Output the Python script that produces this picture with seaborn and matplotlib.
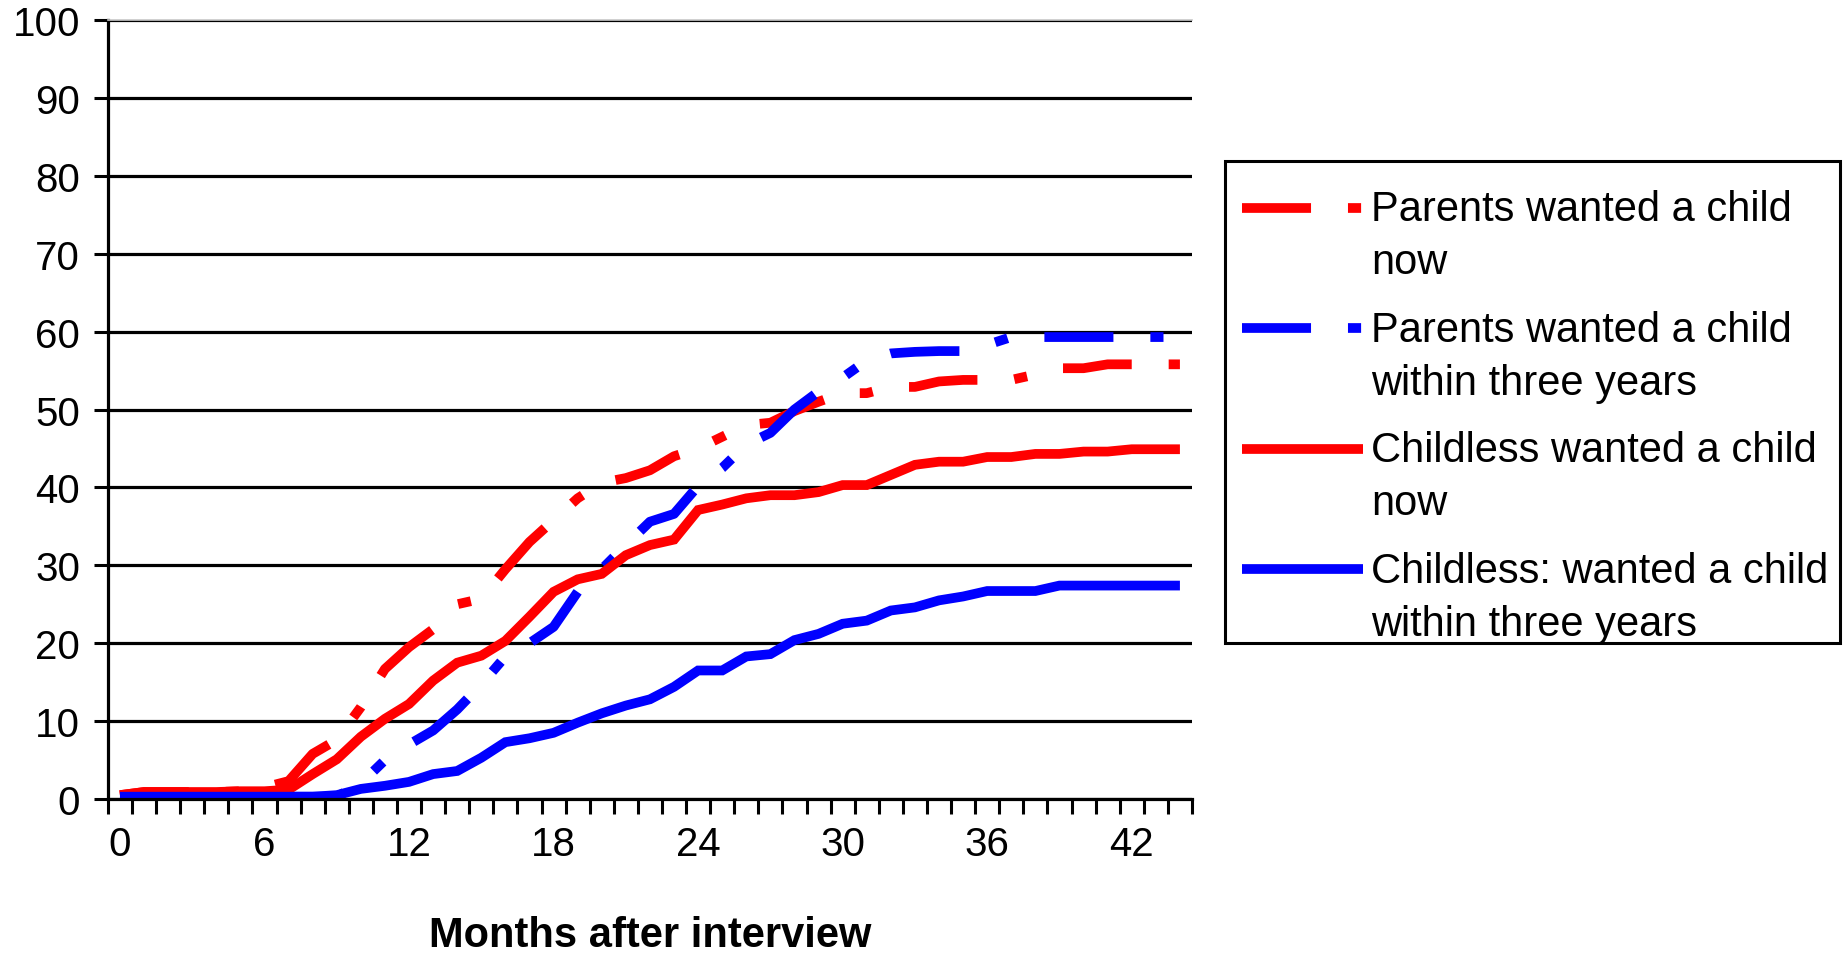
import numpy as np
import pandas as pd
import matplotlib
matplotlib.use("Agg")
import matplotlib.pyplot as plt
import seaborn as sns
from matplotlib.legend_handler import HandlerLine2D
from matplotlib.patches import Rectangle

# months after interview (one category per month)
months = list(range(45))

parents_now = [
    0.5, 0.9, 0.9, 0.9, 0.9, 1.0, 1.5, 2.3, 5.8, 7.6,
    11.8, 16.7, 19.5, 21.8, 25.0, 25.7, 29.5, 33.0, 35.8, 38.6,
    40.6, 41.2, 42.2, 44.0, 45.0, 46.5, 48.0, 48.3, 49.8, 51.0,
    52.1, 52.1, 52.9, 52.9, 53.6, 53.8, 53.8, 53.8, 54.5, 55.3,
    55.3, 55.8, 55.8, 55.8, 55.8,
]
parents_3y = [
    0.3, 0.3, 0.3, 0.3, 0.3, 0.3, 0.3, 0.3, 0.3, 0.3,
    2.0, 5.0, 7.0, 8.8, 11.5, 14.7, 18.3, 20.0, 22.1, 26.6,
    29.5, 32.6, 35.6, 36.6, 40.2, 42.5, 45.5, 47.0, 50.0, 52.3,
    54.1, 56.3, 57.2, 57.4, 57.5, 57.5, 58.3, 59.3, 59.3, 59.3,
    59.3, 59.3, 59.3, 59.3, 59.3,
]
childless_now = [
    0.5, 0.9, 0.9, 0.9, 0.9, 1.0, 1.0, 1.2, 3.2, 5.1,
    8.0, 10.3, 12.2, 15.2, 17.5, 18.4, 20.3, 23.4, 26.6, 28.2,
    28.9, 31.3, 32.6, 33.3, 37.1, 37.8, 38.6, 39.0, 39.0, 39.4,
    40.3, 40.3, 41.6, 42.9, 43.3, 43.3, 43.9, 43.9, 44.3, 44.3,
    44.6, 44.6, 44.9, 44.9, 44.9,
]
childless_3y = [
    0.3, 0.3, 0.3, 0.3, 0.3, 0.3, 0.3, 0.3, 0.3, 0.5,
    1.3, 1.7, 2.2, 3.2, 3.6, 5.3, 7.3, 7.8, 8.5, 9.8,
    11.0, 12.0, 12.8, 14.4, 16.5, 16.5, 18.3, 18.6, 20.4, 21.2,
    22.5, 22.9, 24.2, 24.6, 25.5, 26.0, 26.7, 26.7, 26.7, 27.4,
    27.4, 27.4, 27.4, 27.4, 27.4,
]

groups = ["parents_now", "parents_3y", "childless_now", "childless_3y"]
labels = [
    "Parents wanted a child\nnow",
    "Parents wanted a child\nwithin three years",
    "Childless wanted a child\nnow",
    "Childless: wanted a child\nwithin three years",
]
colors = {"parents_now": "#ff0000", "parents_3y": "#0000ff",
          "childless_now": "#ff0000", "childless_3y": "#0000ff"}
long_dash_dot = (7.1, 3.8, 1.35, 3.8)
dashes = {"parents_now": long_dash_dot, "parents_3y": long_dash_dot,
          "childless_now": "", "childless_3y": ""}

df = pd.DataFrame({
    "month": months * 4,
    "pct": parents_now + parents_3y + childless_now + childless_3y,
    "group": np.repeat(groups, len(months)),
})


class FirstLineHandler(HandlerLine2D):
    """Legend line drawn level with the first line of a two-line label."""

    def __init__(self, offset=18, **kw):
        super().__init__(**kw)
        self.offset = offset

    def create_artists(self, legend, orig_handle, xdescent, ydescent,
                       width, height, fontsize, trans):
        artists = super().create_artists(legend, orig_handle, xdescent, ydescent,
                                         width, height, fontsize, trans)
        for a in artists:
            a.set_ydata(np.asarray(a.get_ydata()) + self.offset)
        return artists


sns.set_theme(style="white")
plt.rcParams["font.family"] = ["Liberation Sans", "DejaVu Sans"]
plt.rcParams["text.color"] = "black"
plt.rcParams["xtick.color"] = "black"
plt.rcParams["ytick.color"] = "black"
plt.rcParams["axes.labelcolor"] = "black"

fig = plt.figure(figsize=(18.48, 9.54), dpi=100)
ax = fig.add_axes([0.0584, 0.1614, 0.5866, 0.8166])

sns.lineplot(
    data=df, x="month", y="pct", hue="group", style="group",
    hue_order=groups, style_order=groups,
    palette=colors, dashes=dashes, lw=7.0,
    legend=False, ax=ax,
)
for line in ax.lines:
    line.set_dash_capstyle("butt")
    line.set_solid_capstyle("butt")
    line.set_solid_joinstyle("miter")

ax.set_xlim(-0.5, 44.5)
ax.set_ylim(0, 100)

# y axis
ax.set_yticks(range(0, 101, 10))
ax.yaxis.grid(True, color="black", lw=2.3)
ax.xaxis.grid(False)
ax.set_axisbelow(True)
ax.tick_params(axis="y", which="major", direction="out", length=10,
               width=2.2, color="black", pad=10, labelsize=29, left=True)

# x axis: labels every 6 months, tick marks between every month
ax.set_xticks(range(0, 43, 6))
ax.set_xticks(np.arange(-0.5, 45, 1), minor=True)
ax.tick_params(axis="x", which="major", length=0, pad=19, labelsize=29)
ax.tick_params(axis="x", which="minor", direction="out", length=11,
               width=2.2, color="black", bottom=True)

for side in ["left", "bottom"]:
    ax.spines[side].set_color("black")
    ax.spines[side].set_linewidth(2.3)
ax.spines["top"].set_color("#c8c8c8")
ax.spines["top"].set_linewidth(1.2)
ax.spines["right"].set_visible(False)

ax.set_xlabel("Months after interview", fontsize=30, fontweight="bold",
              labelpad=37)
ax.set_ylabel("")

# legend box drawn separately so its padding matches the reference
fig.patches.append(Rectangle((0.6629, 0.3249), 0.3328, 0.5052,
                             transform=fig.transFigure, fill=False,
                             edgecolor="black", lw=2.2, zorder=5))

handles = list(ax.lines)
leg = ax.legend(
    handles=handles, labels=labels,
    handler_map={h: FirstLineHandler(offset=21) for h in handles},
    loc="upper left", bbox_to_anchor=(0.672, 0.8005),
    bbox_transform=fig.transFigure, borderaxespad=0,
    fontsize=30, frameon=False, handlelength=2.9,
    handletextpad=0.2, borderpad=0, labelspacing=0.66,
)
for t in leg.get_texts():
    t.set_linespacing(1.42)

fig.savefig("out.png", dpi=100)
